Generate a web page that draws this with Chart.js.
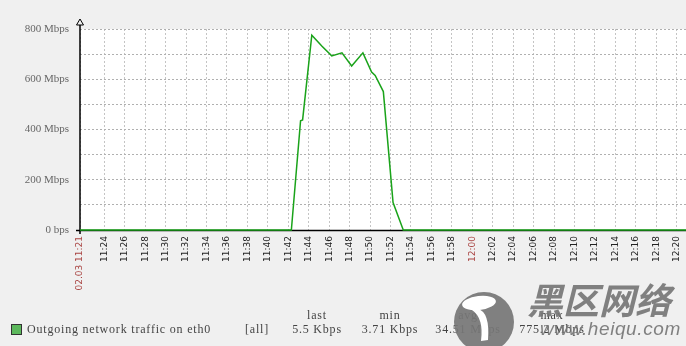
<!DOCTYPE html>
<html>
<head>
<meta charset="utf-8">
<script src="https://cdn.jsdelivr.net/npm/chart.js@4/dist/chart.umd.min.js"></script>
<style>
  html, body { margin: 0; padding: 0; background: #f0f0f0; }
  canvas { display: block; }
</style>
</head>
<body>
<canvas id="trafficChart" width="686" height="346"></canvas>
<script>
// 시간 범위 (graph window)
const startTime = "11:21:37";
const endTime = "12:20:55";

// 측정 시각과 값 (Mbps)
const sampleTimes = [
  "11:21:37", "11:42:18", "11:43:12", "11:43:24", "11:44:18", "11:45:18",
  "11:46:15", "11:47:15", "11:48:12", "11:49:18", "11:50:09", "11:50:30",
  "11:51:18", "11:52:15", "11:53:15", "12:20:55"
];
const outgoingMbps = [
  0.004, 0.004, 435, 438, 775, 731,
  693, 705, 653, 705, 629, 615,
  551, 109, 0.005, 0.0055
];

// 축 눈금
const yTickValues = [0, 200, 400, 600, 800];
const xTickLabels = [
  "02.03 11:21", "11:24", "11:26", "11:28", "11:30", "11:32", "11:34", "11:36",
  "11:38", "11:40", "11:42", "11:44", "11:46", "11:48", "11:50", "11:52",
  "11:54", "11:56", "11:58", "12:00", "12:02", "12:04", "12:06", "12:08",
  "12:10", "12:12", "12:14", "12:16", "12:18", "12:20"
];

// 범례 값
const legendName = "Outgoing network traffic on eth0";
const legendFunc = "[all]";
const legendHeaders = ["last", "min", "avg", "max"];
const legendValues = ["5.5 Kbps", "3.71 Kbps", "34.51 Mbps", "775.2 Mbps"];

// "HH:MM:SS" -> 11:00 이후 분
function toMinutes(t) {
  const p = t.split(":").map(Number);
  return (p[0] - 11) * 60 + p[1] + (p[2] || 0) / 60;
}

const xMin = toMinutes(startTime);
const xMax = toMinutes(endTime);
const xTickValues = xTickLabels.map((l, i) => i === 0 ? xMin : toMinutes(l.slice(-5)));
const points = sampleTimes.map((t, i) => ({ x: toMinutes(t), y: outgoingMbps[i] }));

const RED = "#a94442";

const framePlugin = {
  id: "frame",
  beforeDraw(chart) {
    const { ctx, chartArea: a } = chart;
    ctx.save();
    ctx.fillStyle = "#f0f0f0";
    ctx.fillRect(0, 0, chart.width, chart.height);
    ctx.fillStyle = "#ffffff";
    ctx.fillRect(a.left, a.top, a.right - a.left, a.bottom - a.top);
    ctx.restore();
  },
  beforeDatasetsDraw(chart) {
    const { ctx, chartArea: a } = chart;
    ctx.save();
    ctx.strokeStyle = "#000";
    ctx.lineWidth = 1.5;
    ctx.beginPath();
    // y axis with arrow
    ctx.moveTo(a.left, a.top - 4);
    ctx.lineTo(a.left, a.bottom + 4);
    // x axis
    ctx.moveTo(a.left - 4, a.bottom + 0.5);
    ctx.lineTo(a.right, a.bottom + 0.5);
    ctx.stroke();
    ctx.lineWidth = 1;
    ctx.beginPath();
    ctx.moveTo(a.left, a.top - 10);
    ctx.lineTo(a.left - 3.5, a.top - 4);
    ctx.lineTo(a.left + 3.5, a.top - 4);
    ctx.closePath();
    ctx.fillStyle = "#f0f0f0";
    ctx.fill();
    ctx.stroke();
    ctx.restore();
  },
  afterDraw(chart) {
    const ctx = chart.ctx;
    ctx.save();
    // legend
    ctx.fillStyle = "#5cb85c";
    ctx.fillRect(11.5, 324.5, 10, 10);
    ctx.strokeStyle = "#333";
    ctx.lineWidth = 1;
    ctx.strokeRect(11.5, 324.5, 10, 10);
    ctx.fillStyle = "#444";
    ctx.font = '12px "Liberation Serif"';
    ctx.letterSpacing = "0.8px";
    ctx.textBaseline = "alphabetic";
    ctx.textAlign = "left";
    ctx.fillText(legendName, 27, 333);
    ctx.fillText(legendFunc, 245, 333);
    const cols = [317, 390, 468, 552];
    ctx.textAlign = "center";
    legendHeaders.forEach((h, i) => ctx.fillText(h, cols[i], 319));
    legendValues.forEach((v, i) => ctx.fillText(v, cols[i], 333));
    ctx.letterSpacing = "0px";

    // watermark
    ctx.fillStyle = "rgba(118,118,118,0.92)";
    ctx.beginPath();
    ctx.arc(484, 322, 30, 0, Math.PI * 2);
    ctx.fill();
    ctx.fillStyle = "#ffffff";
    ctx.beginPath();
    ctx.ellipse(479, 303, 17, 7, -0.12, 0, Math.PI * 2);
    ctx.fill();
    ctx.beginPath();
    ctx.moveTo(478, 309);
    ctx.quadraticCurveTo(490, 312, 488, 340);
    ctx.lineTo(481, 341);
    ctx.quadraticCurveTo(484, 318, 472, 310);
    ctx.closePath();
    ctx.fill();
    ctx.fillStyle = "rgba(118,118,118,0.92)";
    ctx.textAlign = "left";
    ctx.font = 'italic bold 36px "Noto Sans CJK SC"';
    ctx.fillText("黑区网络", 527, 314);
    ctx.font = 'italic 19px "Liberation Sans"';
    ctx.letterSpacing = "0.6px";
    ctx.fillText("www.heiqu.com", 540, 335);
    ctx.restore();
  }
};

new Chart(document.getElementById("trafficChart"), {
  type: "line",
  data: {
    datasets: [{
      label: legendName,
      data: points,
      borderColor: "#1aa31a",
      borderWidth: 1.5,
      pointRadius: 0,
      tension: 0,
      fill: false,
      clip: 3
    }]
  },
  options: {
    responsive: false,
    animation: false,
    devicePixelRatio: 1,
    layout: { padding: { top: 29, right: 0, bottom: 0, left: 0 } },
    plugins: { legend: { display: false }, tooltip: { enabled: false } },
    scales: {
      x: {
        type: "linear",
        min: xMin,
        max: xMax,
        afterBuildTicks: (scale) => {
          scale.ticks = xTickValues.map((v) => ({ value: v }));
        },
        afterFit: (scale) => {
          scale.height = 116;
          scale.paddingLeft = 0;
          scale.paddingRight = 0;
        },
        grid: { color: "#c4c4c4", lineWidth: 1, drawTicks: false },
        border: { display: false, dash: [2, 2] },
        ticks: {
          autoSkip: false,
          maxRotation: 90,
          minRotation: 90,
          padding: 6,
          font: { family: "DejaVu Sans", size: 9 },
          color: (c) => (c.index === 0 || xTickLabels[c.index] === "12:00") ? RED : "#222",
          callback: (v, i) => xTickLabels[i]
        }
      },
      y: {
        min: 0,
        max: 800,
        ticks: {
          stepSize: 100,
          padding: 11,
          font: { family: "Liberation Serif", size: 11 },
          color: "#666",
          callback: (v) => yTickValues.includes(v) ? (v === 0 ? "0 bps" : v + " Mbps") : ""
        },
        afterFit: (scale) => { scale.width = 80; },
        grid: { color: "#b0b0b0", lineWidth: 1, drawTicks: false },
        border: { display: false, dash: [2, 2] }
      }
    }
  },
  plugins: [framePlugin]
});
</script>
</body>
</html>
